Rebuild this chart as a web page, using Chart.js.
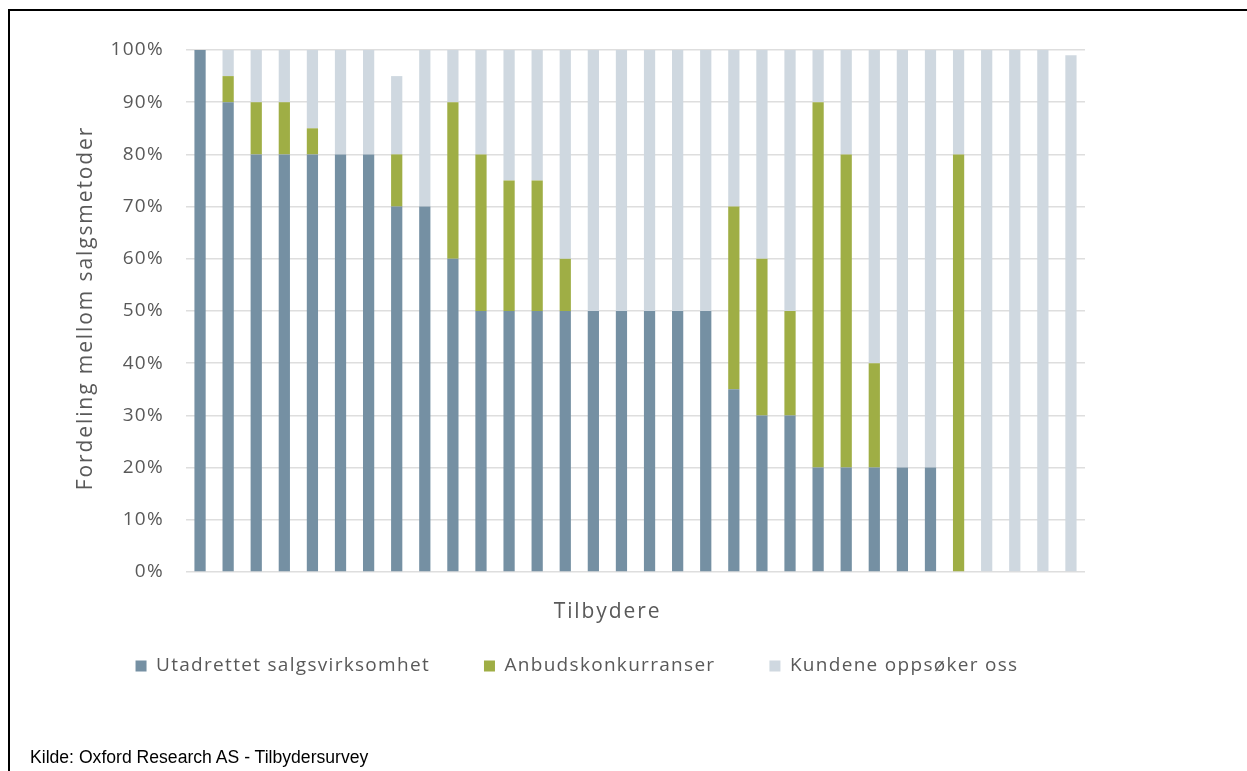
<!DOCTYPE html>
<html lang="no">
<head>
<meta charset="utf-8">
<title>Fordeling mellom salgsmetoder</title>
<script src="https://cdn.jsdelivr.net/npm/chart.js@4.4.1/dist/chart.umd.min.js"></script>
<style>
  html, body { margin: 0; padding: 0; background: #ffffff; }
  #wrap { position: relative; width: 1247px; height: 771px; overflow: hidden; }
  #frame {
    position: absolute; left: 8px; top: 9px; width: 1300px; height: 820px;
    border-top: 2px solid #000; border-left: 2px solid #000;
  }
  #chart { position: absolute; left: 0; top: 0; }
  #source {
    position: absolute; left: 30px; top: 747px;
    font-family: "Liberation Sans", Arial, sans-serif; font-size: 17.6px; line-height: 20px;
    color: #000;
  }
</style>
</head>
<body>
<div id="wrap">
  <div id="frame"></div>
  <canvas id="chart" width="1247" height="771"></canvas>
  <div id="source">Kilde: Oxford Research AS - Tilbydersurvey</div>
</div>
<script>
// Tilbydere (respondents), one bar each
const tilbydere = ['1','2','3','4','5','6','7','8','9','10','11','12','13','14','15','16',
                   '17','18','19','20','21','22','23','24','25','26','27','28','29','30','31','32'];

// Share of sales by method, percent
const utadrettet = [100, 90, 80, 80, 80, 80, 80, 70, 70, 60, 50, 50, 50, 50, 50, 50,
                     50, 50, 50, 35, 30, 30, 20, 20, 20, 20, 20,  0,  0,  0,  0,  0];
const anbud      = [  0,  5, 10, 10,  5,  0,  0, 10,  0, 30, 30, 25, 25, 10,  0,  0,
                      0,  0,  0, 35, 30, 20, 70, 60, 20,  0,  0, 80,  0,  0,  0,  0];
const kundene    = [  0,  5, 10, 10, 15, 20, 20, 15, 30, 10, 20, 25, 25, 40, 50, 50,
                     50, 50, 50, 30, 40, 50, 10, 20, 60, 80, 80, 20,100,100,100, 99];

const serieNavn = ['Utadrettet salgsvirksomhet', 'Anbudskonkurranser', 'Kundene oppsøker oss'];
const yEtiketter = ['0%','10%','20%','30%','40%','50%','60%','70%','80%','90%','100%'];

const farger = ['#7590A3', '#9FAE45', '#CFD8E0'];
const tekstFarge = '#595959';
const skrift = '"Open Sans", "Noto Sans", sans-serif';

// Letter spacing for canvas text (axis titles get a wider one)
const SPACING = '1.3px';
const TITLE_SPACING = '1.9px';

const placement = {
  id: 'placement',
  beforeLayout(chart) { chart.ctx.letterSpacing = SPACING; },
  beforeDraw(chart) { chart.ctx.letterSpacing = SPACING; },
  afterLayout(chart) {
    // legend row: centred under the chart, text line at y = 666
    const lg = chart.legend;
    const h = lg.bottom - lg.top;
    const dx = 577 - (lg.left + lg.right) / 2;
    lg.left += dx; lg.right += dx;
    lg.top = 666 - lg.options.labels.padding - lg.options.labels.font.size / 2;
    lg.bottom = lg.top + h;

    // axis titles: wider tracking; x title sits slightly left of the plot centre
    const wrap = (scale, tx, ty) => {
      if (scale._wrappedTitle) return;
      const orig = scale.drawTitle;
      scale.drawTitle = function () {
        const ctx = this.ctx;
        ctx.save();
        ctx.letterSpacing = TITLE_SPACING;
        ctx.translate(tx, ty);
        orig.apply(this, arguments);
        ctx.restore();
      };
      scale._wrappedTitle = true;
    };
    wrap(chart.scales.x, -28, 0);
    wrap(chart.scales.y, 0, -3);
  }
};

const ds = (i, data) => ({
  label: serieNavn[i],
  data: data,
  backgroundColor: farger[i],
  borderWidth: 0,
  barPercentage: 0.4,
  categoryPercentage: 1.0
});

new Chart(document.getElementById('chart'), {
  type: 'bar',
  data: {
    labels: tilbydere,
    datasets: [ds(0, utadrettet), ds(1, anbud), ds(2, kundene)]
  },
  options: {
    responsive: false,
    animation: false,
    layout: { padding: { left: 0, top: 50, right: 162, bottom: 56 } },
    plugins: {
      tooltip: { enabled: false },
      legend: {
        position: 'bottom',
        labels: {
          boxWidth: 11, boxHeight: 11, padding: 54,
          color: tekstFarge,
          font: { family: skrift, size: 19 }
        }
      }
    },
    scales: {
      x: {
        stacked: true,
        grid: { display: false },
        border: { display: false },
        ticks: { display: false },
        title: {
          display: true, text: 'Tilbydere', color: tekstFarge,
          font: { family: skrift, size: 21 },
          padding: { top: 0, bottom: 7 }
        },
        afterFit(scale) { scale.height = 60; }
      },
      y: {
        stacked: true,
        min: 0, max: 100,
        ticks: {
          stepSize: 10,
          padding: 22,
          color: tekstFarge,
          font: { family: skrift, size: 19 },
          callback: (v, i) => yEtiketter[i]
        },
        grid: { color: '#DEDEDE', lineWidth: 1.5, drawTicks: false },
        border: { display: false },
        title: {
          display: true, text: 'Fordeling mellom salgsmetoder', color: tekstFarge,
          font: { family: skrift, size: 21 },
          padding: { top: 73, bottom: 0 }
        },
        afterFit(scale) { scale.width = 186; }
      }
    }
  },
  plugins: [placement]
});
</script>
</body>
</html>
